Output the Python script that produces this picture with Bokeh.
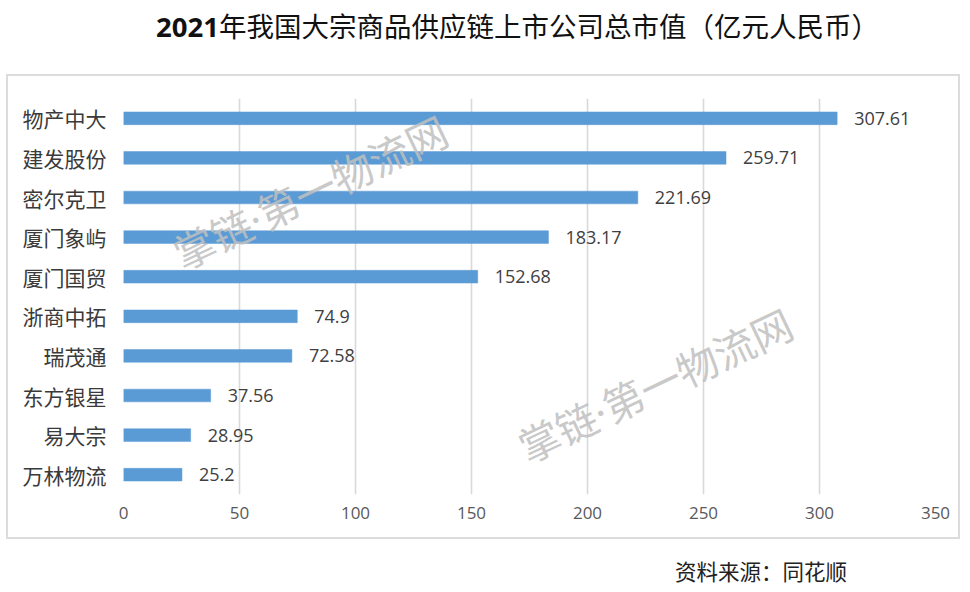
import math
from bokeh.plotting import figure
from bokeh.layouts import column
from bokeh.models import ColumnDataSource, Range1d, FixedTicker, Label, Div
from bokeh.core.properties import value
from bokeh.embed import file_html
from bokeh.resources import INLINE

companies = ["物产中大", "建发股份", "密尔克卫", "厦门象屿", "厦门国贸",
             "浙商中拓", "瑞茂通", "东方银星", "易大宗", "万林物流"]
market_cap = [307.61, 259.71, 221.69, 183.17, 152.68, 74.9, 72.58, 37.56, 28.95, 25.2]
value_labels = ["307.61", "259.71", "221.69", "183.17", "152.68", "74.9", "72.58", "37.56", "28.95", "25.2"]
x_ticks = [0, 50, 100, 150, 200, 250, 300, 350]
title_year = "2021"
title_rest = "年我国大宗商品供应链上市公司总市值（亿元人民币）"
source_text = "资料来源：同花顺"
watermark_text = "掌链·第一物流网"

CJK = "Noto Sans CJK SC"

src = ColumnDataSource(dict(name=companies, val=market_cap, lab=value_labels))

p = figure(
    y_range=list(reversed(companies)),
    x_range=Range1d(0, 350),
    frame_width=808, frame_height=392,
    min_border_left=115, min_border_right=27,
    min_border_top=22, min_border_bottom=47,
    output_backend="svg", toolbar_location=None,
    background_fill_color="white", border_fill_color="white",
    margin=(0, 0, 0, 6),
    styles={"border": "2px solid #dcdcdc"},
)
p.outline_line_color = None

p.hbar(y="name", right="val", left=0, height=0.32, source=src,
       fill_color="#5B9BD5", line_color="#5B9BD5", line_width=0.5)

p.text(x="val", y="name", text="lab", source=src, x_offset=17,
       text_baseline="middle", text_align="left",
       text_font=value("Open Sans"), text_font_size="18px", text_color="#404040")

p.xaxis.ticker = FixedTicker(ticks=x_ticks)
p.xaxis.axis_line_color = None
p.xaxis.major_tick_line_color = None
p.xaxis.minor_tick_line_color = None
p.xaxis.major_label_standoff = 6
p.xaxis.major_label_text_font = "Open Sans"
p.xaxis.major_label_text_font_size = "17px"
p.xaxis.major_label_text_color = "#595959"

p.yaxis.axis_line_color = None
p.yaxis.major_tick_line_color = None
p.yaxis.minor_tick_line_color = None
p.yaxis.major_label_standoff = 11
p.yaxis.major_label_text_font = CJK
p.yaxis.major_label_text_font_size = "21px"
p.yaxis.major_label_text_color = "#3a3a3a"

p.xgrid.grid_line_color = "#d9d9d9"
p.xgrid.grid_line_width = 1.6
p.ygrid.grid_line_color = None

# watermarks
ang = math.radians(25.5)
for cx, cy in [(300, 114), (645, 307)]:
    p.add_layout(Label(x=cx, y=cy, x_units="canvas", y_units="canvas",
                       text=watermark_text, text_align="center", text_baseline="middle",
                       angle=ang, text_font="Noto Sans, Noto Sans CJK SC", text_font_size="41px",
                       text_color="#c0c0c0", text_alpha=0.85))

title_div = Div(
    text=f"<b style='font-family:Open Sans, Noto Sans CJK SC'>{title_year}</b>{title_rest}",
    width=790, height=74, margin=(0, 0, 0, 156),
    styles={"font-family": CJK, "font-size": "27.5px", "line-height": "50px",
            "color": "#111111", "white-space": "nowrap"},
)

source_div = Div(
    text=source_text, width=250, height=50, margin=(14, 0, 0, 675),
    styles={"font-family": CJK, "font-size": "21.5px", "line-height": "36px",
            "color": "#222222", "white-space": "nowrap"},
)

layout = column(title_div, p, source_div, spacing=0)

open("out.html", "w").write(file_html(layout, INLINE))
